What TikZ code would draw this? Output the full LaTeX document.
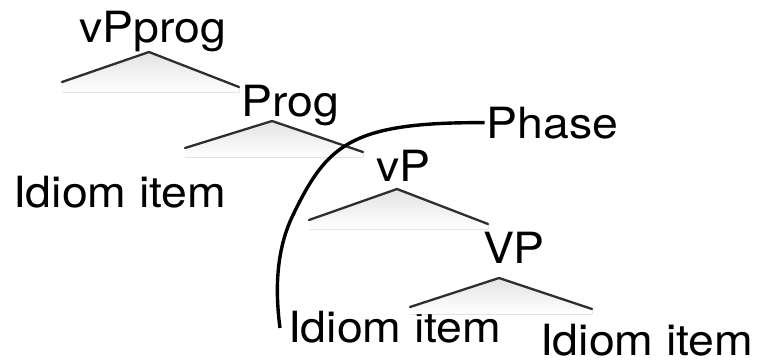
\documentclass[tikz,border=0pt]{standalone}
\usepackage{fontspec}
\setmainfont{TeX Gyre Heros}[FakeStretch=1.08]
\begin{document}
\begin{tikzpicture}[x=1pt,y=-1pt,
  lbl/.style={anchor=base west,inner sep=0pt,outer sep=0pt,font=\fontsize{43}{50}\selectfont},
  branch/.style={draw=black!82,line width=2.3pt,line cap=round,line join=miter},
  shade/.style={top color=black!11,bottom color=white,draw=none},
  phaseline/.style={draw=black,line width=3.4pt}]
\useasboundingbox (0,0) rectangle (758,360);
% labels
\node[lbl] (vPprog) at (79,42) {vPprog};
\node[lbl] (Prog) at (241.5,116) {Prog};
\node[lbl] (idiomA) at (13,207) {Idiom item};
\node[lbl] (Phase) at (486.5,138) {Phase};
\node[lbl] (vP) at (376,181) {vP};
\node[lbl] (VP) at (483,263) {VP};
\node[lbl] (idiomB) at (288,342) {Idiom item};
\node[lbl] (idiomC) at (540,355) {Idiom item};
% tree coordinates
\coordinate (a1) at (149,52); \coordinate (l1) at (62,82); \coordinate (r1) at (239,87);
\coordinate (a2) at (272,121); \coordinate (l2) at (185,148); \coordinate (r2) at (363,152);
\coordinate (a3) at (397,189); \coordinate (l3) at (309,220); \coordinate (r3) at (488,224);
\coordinate (a4) at (499,278); \coordinate (l4) at (410,307); \coordinate (r4) at (592,309);
% shadows
\fill[shade] (l1) -- (a1) -- (r1) -- (239,92) -- (62,92) -- cycle;
\fill[shade] (l2) -- (a2) -- (r2) -- (363,157) -- (185,157) -- cycle;
\fill[shade] (l3) -- (a3) -- (r3) -- (488,229) -- (309,229) -- cycle;
\fill[shade] (l4) -- (a4) -- (r4) -- (592,314) -- (410,314) -- cycle;
% branches
\draw[branch] (l1) -- (a1) -- (r1);
\draw[branch] (l2) -- (a2) -- (r2);
\draw[branch] (l3) -- (a3) -- (r3);
\draw[branch] (l4) -- (a4) -- (r4);
% phase curve
\coordinate (c0) at (280,328);
\coordinate (c1) at (293,215);
\draw[phaseline] (c0) .. controls (275,290) and (276,250) .. (c1)
  .. controls (327,145) and (350,122) .. ([xshift=-2pt]Phase.west);
\end{tikzpicture}
\end{document}
